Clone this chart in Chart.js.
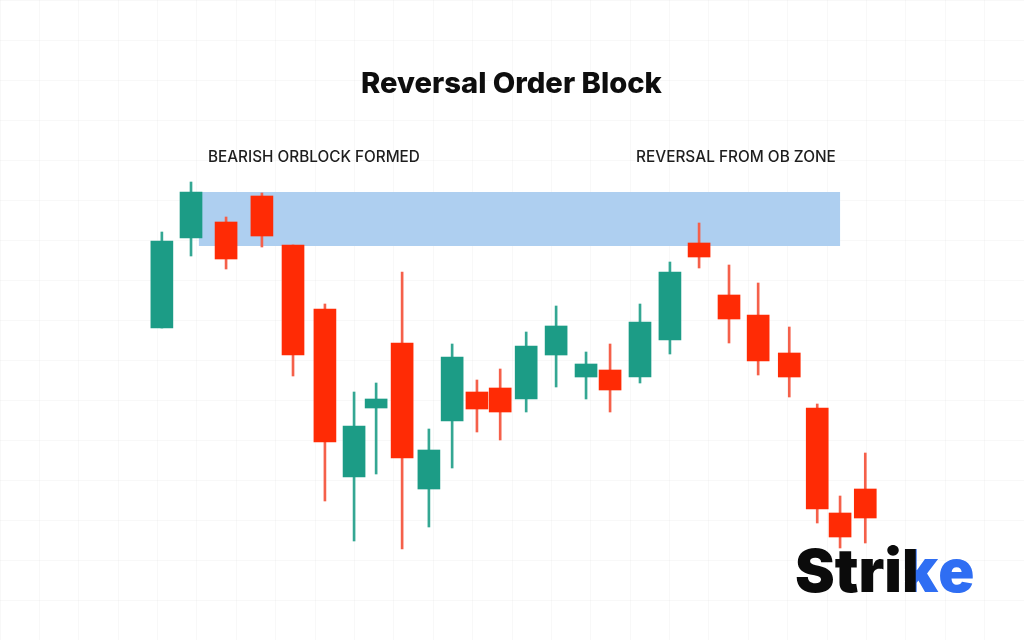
<!DOCTYPE html>
<html>
<head>
<meta charset="utf-8">
<script src="https://cdn.jsdelivr.net/npm/chart.js@4.4.1/dist/chart.umd.min.js"></script>
<style>
html,body{margin:0;padding:0;background:#ffffff;}
#wrap{width:1024px;height:640px;position:relative;}
canvas{display:block;}
</style>
</head>
<body>
<div id="wrap"><canvas id="c" width="1024" height="640"></canvas></div>
<script>
// ---- data ----
const times  = [3.61, 4.35, 5.24, 6.15, 6.94, 7.75, 8.49, 9.05, 9.71, 10.39, 10.98, 11.61, 12.20, 12.86, 13.62, 14.38, 14.99, 15.75, 16.51, 17.25, 18.01, 18.75, 19.54, 20.25, 20.83, 21.47];
const opens  = [78, 100.5, 104.5, 111, 98.75, 82.75, 40.75, 58, 74.25, 37.75, 54.75, 62, 63, 60.25, 71.25, 65.75, 67.5, 65.75, 75, 99.25, 86.25, 81.25, 71.75, 58, 31.75, 37.75];
const highs  = [102, 114.5, 105.75, 111.75, 98.75, 84, 62, 64.25, 92, 52.75, 74, 65, 67.75, 77, 83.5, 72, 74, 84, 94.5, 104.25, 93.75, 89.25, 78.25, 59, 36, 46.75];
const lows   = [78, 96, 92.75, 98.25, 66, 34.75, 24.75, 41.5, 22.75, 28.25, 43, 52, 50, 57, 63.25, 60.25, 57, 64.25, 71.5, 93, 74.25, 66.25, 60.75, 29.25, 23, 24.25];
const closes = [99.75, 112, 95.25, 101, 71.25, 49.5, 53.5, 60.25, 45.5, 47.5, 70.75, 57.75, 57, 73.5, 78.5, 69, 62.5, 79.5, 92, 95.75, 80.25, 69.75, 65.75, 32.75, 25.75, 30.5];
const zoneTime  = [4.55, 20.83];
const zonePrice = [98.5, 112];
const titleText  = 'Reversal Order Block';
const leftLabel  = 'BEARISH ORBLOCK FORMED';
const rightLabel = 'REVERSAL FROM OB ZONE';
const brandParts = ['Stri', 'k', 'e'];

// ---- styles ----
const UP = '#1c9c86', DOWN = '#ff2b05';
const UP_WICK = '#34a793', DOWN_WICK = '#f5604a';
const ZONE = '#aecff0';
const GRID = 'rgba(0,0,0,0.028)';
const BRAND_BLUE = '#2f6ef3';

const up = times.map((t, i) => closes[i] >= opens[i]);

function fitSize(ctx, text, weight, family, targetW) {
  ctx.font = weight + ' 100px ' + family;
  const w = ctx.measureText(text).width;
  return 100 * targetW / w;
}

const zonePlugin = {
  id: 'zone',
  beforeDatasetsDraw(chart) {
    const {ctx, scales: {x, y}} = chart;
    const x0 = x.getPixelForValue(zoneTime[0]), x1 = x.getPixelForValue(zoneTime[1]);
    const y0 = y.getPixelForValue(zonePrice[1]), y1 = y.getPixelForValue(zonePrice[0]);
    ctx.save();
    ctx.fillStyle = ZONE;
    ctx.fillRect(x0, y0, x1 - x0, y1 - y0);
    ctx.restore();
  }
};

const textPlugin = {
  id: 'texts',
  afterDraw(chart) {
    const ctx = chart.ctx;
    ctx.save();
    ctx.textBaseline = 'alphabetic';
    // title
    let s = fitSize(ctx, titleText, '800', 'Inter', 301);
    ctx.font = '800 ' + s + 'px Inter';
    ctx.fillStyle = '#0e0e0e';
    ctx.textAlign = 'left';
    ctx.fillText(titleText, 361, 93);
    // labels
    s = fitSize(ctx, leftLabel, '500', 'Inter', 212);
    ctx.font = '500 ' + s + 'px Inter';
    ctx.fillStyle = '#1e1e1e';
    ctx.fillText(leftLabel, 208, 162);
    s = fitSize(ctx, rightLabel, '500', 'Inter', 200);
    ctx.font = '500 ' + s + 'px Inter';
    ctx.fillText(rightLabel, 636, 162);
    // brand
    const full = brandParts.join('');
    s = fitSize(ctx, full, '900', 'Inter', 178);
    ctx.font = '900 ' + s + 'px Inter';
    let bx = 795; const by = 592;
    ctx.fillStyle = '#0b0b0b';
    ctx.fillText(brandParts[0], bx, by);
    bx += ctx.measureText(brandParts[0]).width;
    const kw = ctx.measureText(brandParts[1]).width;
    ctx.fillStyle = BRAND_BLUE;
    ctx.fillText(brandParts[1], bx, by);
    ctx.save();
    ctx.beginPath();
    ctx.rect(bx, by - s, kw * 0.38, s * 1.2);
    ctx.clip();
    ctx.fillStyle = '#0b0b0b';
    ctx.fillText(brandParts[1], bx, by);
    ctx.restore();
    bx += kw;
    ctx.fillStyle = BRAND_BLUE;
    ctx.fillText(brandParts[2], bx, by);
    ctx.restore();
  }
};

new Chart(document.getElementById('c'), {
  type: 'bar',
  data: {
    datasets: [
      {
        label: 'body',
        data: times.map((t, i) => ({x: t, y: [opens[i], closes[i]]})),
        backgroundColor: up.map(u => u ? UP : DOWN),
        barThickness: 22,
        grouped: false,
        borderWidth: 0
      },
      {
        label: 'wick',
        data: times.map((t, i) => ({x: t, y: [lows[i], highs[i]]})),
        backgroundColor: up.map(u => u ? UP_WICK : DOWN_WICK),
        barThickness: 2,
        grouped: false,
        borderWidth: 0
      }
    ]
  },
  options: {
    responsive: false,
    animation: false,
    layout: {padding: 0},
    plugins: {legend: {display: false}, tooltip: {enabled: false}, title: {display: false}},
    scales: {
      x: {
        type: 'linear', min: -0.5, max: 25.5, offset: false,
        ticks: {display: false, stepSize: 1},
        grid: {color: GRID, drawTicks: false, offset: false},
        border: {display: false}
      },
      y: {
        type: 'linear', min: 0, max: 160,
        ticks: {display: false, stepSize: 10},
        grid: {color: GRID, drawTicks: false},
        border: {display: false}
      }
    }
  },
  plugins: [zonePlugin, textPlugin]
});
</script>
</body>
</html>
